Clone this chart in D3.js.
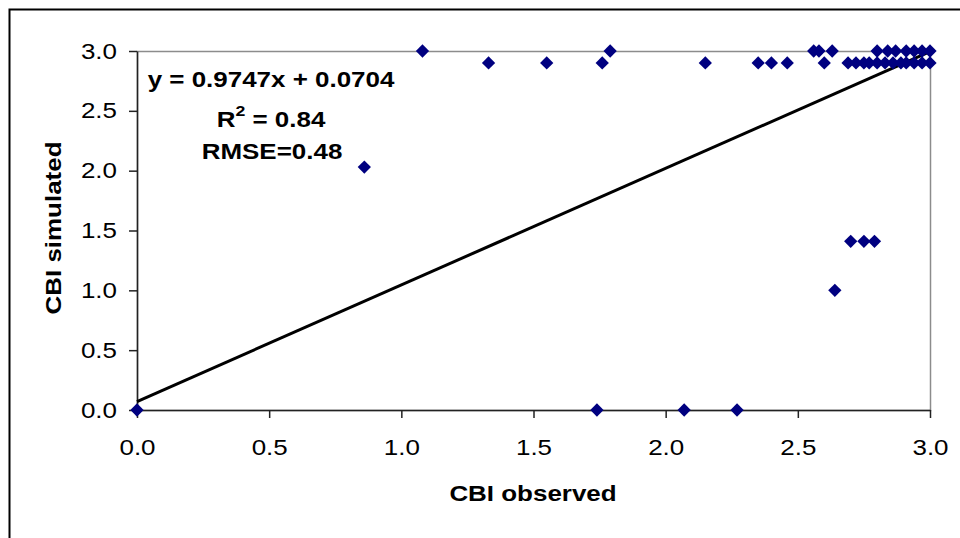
<!DOCTYPE html>
<html>
<head>
<meta charset="utf-8">
<script src="https://cdn.jsdelivr.net/npm/d3@7"></script>
<style>
  body { margin: 0; background: #fff; }
  svg { display: block; font-family: Arial, 'Liberation Sans', sans-serif; }
</style>
</head>
<body>
<svg width="960" height="538"></svg>
<script>
// observed vs simulated CBI
const observed = [
    0, 0.86, 1.08, 1.33, 1.55, 1.76, 1.79, 2.15, 2.35, 2.40, 2.46,
    2.56, 2.58, 2.60, 2.63,
    2.69, 2.72, 2.75, 2.77, 2.80, 2.83, 2.86, 2.89, 2.91, 2.94, 2.97, 3.00,
    2.80, 2.84, 2.87, 2.91, 2.94, 2.97, 3.00,
    2.70, 2.75, 2.79, 2.64,
    1.74, 2.07, 2.27,
];
const simulated = [
    0, 2.03, 3.0, 2.9, 2.9, 2.9, 3.0, 2.9, 2.9, 2.9, 2.9,
    3.0, 3.0, 2.9, 3.0,
    2.9, 2.9, 2.9, 2.9, 2.9, 2.9, 2.9, 2.9, 2.9, 2.9, 2.9, 2.9,
    3.0, 3.0, 3.0, 3.0, 3.0, 3.0, 3.0,
    1.41, 1.41, 1.41, 1.0,
    0, 0, 0,
];
const xTicks = [0, 0.5, 1.0, 1.5, 2.0, 2.5, 3.0];
const yTicks = [0, 0.5, 1.0, 1.5, 2.0, 2.5, 3.0];
const slope = 0.9747;
const intercept = 0.0704;
const statsLines = ['y = 0.9747x + 0.0704', 'R2 = 0.84', 'RMSE=0.48'];

const data = observed.map((d, i) => ({ x: d, y: simulated[i] }));

const svg = d3.select('svg');
const sx = 1.18; // excel text is drawn a bit wider than Arial

const x = d3.scaleLinear().domain([0, 3]).range([137, 930]);
const y = d3.scaleLinear().domain([0, 3]).range([410, 51]);

// outer chart border (runs off the right and bottom)
svg.append('path')
    .attr('d', 'M9.5 560 L9.5 9.5 L980 9.5')
    .attr('fill', 'none')
    .attr('stroke', '#000')
    .attr('stroke-width', 2);

// plot area frame
svg.append('rect')
    .attr('x', x(0) + 0.5)
    .attr('y', y(3) + 0.5)
    .attr('width', x(3) - x(0))
    .attr('height', y(0) - y(3))
    .attr('fill', 'none')
    .attr('stroke', '#8c8c8c')
    .attr('stroke-width', 1.5);

const xAxis = svg.append('g')
    .attr('transform', 'translate(0,' + y(0) + ')')
    .call(d3.axisBottom(x).tickValues(xTicks).tickFormat(d3.format('.1f'))
        .tickSize(8).tickSizeOuter(0).tickPadding(21));

const yAxis = svg.append('g')
    .attr('transform', 'translate(' + x(0) + ',0)')
    .call(d3.axisLeft(y).tickValues(yTicks).tickFormat(d3.format('.1f'))
        .tickSize(8).tickSizeOuter(0).tickPadding(12));

[xAxis, yAxis].forEach(a => {
    a.selectAll('path, line').attr('stroke', '#222').attr('stroke-width', 1.5);
    a.selectAll('text')
        .attr('fill', '#000')
        .style('font-size', '22px')
        .attr('transform', function () {
            const tx = +this.getAttribute('x') || 0;
            return 'translate(' + tx + ',0) scale(' + sx + ',1)';
        })
        .attr('x', 0);
});

// trend line
svg.append('path')
    .datum([0, 3])
    .attr('d', d3.line().x(d => x(d)).y(d => y(slope * d + intercept)))
    .attr('stroke', '#000')
    .attr('stroke-width', 3)
    .attr('fill', 'none');

// points
svg.append('g')
    .selectAll('path')
    .data(data)
    .enter()
    .append('path')
    .attr('d', d3.symbol(d3.symbolSquare, 88))
    .attr('transform', d => 'translate(' + x(d.x) + ',' + y(d.y) + ') rotate(45)')
    .attr('fill', '#000080');

// stats text
const stats = svg.append('g')
    .style('font-weight', 'bold')
    .style('font-size', '22px')
    .attr('text-anchor', 'middle');

stats.append('text')
    .attr('transform', 'translate(271,87) scale(' + sx + ',1)')
    .text(statsLines[0]);

const r2 = stats.append('text')
    .attr('transform', 'translate(271,127) scale(' + sx + ',1)');
r2.append('tspan').text(statsLines[1].slice(0, 1));
r2.append('tspan').attr('dy', -11).style('font-size', '15px').text(statsLines[1].slice(1, 2));
r2.append('tspan').attr('dy', 11).text(statsLines[1].slice(2));

stats.append('text')
    .attr('transform', 'translate(272,159) scale(' + sx + ',1)')
    .text(statsLines[2]);

// axis titles
svg.append('text')
    .attr('transform', 'translate(533,501) scale(' + sx + ',1)')
    .attr('text-anchor', 'middle')
    .style('font-weight', 'bold')
    .style('font-size', '22px')
    .text('CBI observed');

svg.append('text')
    .attr('transform', 'translate(61,228) rotate(-90) scale(' + sx + ',1)')
    .attr('text-anchor', 'middle')
    .style('font-weight', 'bold')
    .style('font-size', '22px')
    .text('CBI simulated');
</script>
</body>
</html>
